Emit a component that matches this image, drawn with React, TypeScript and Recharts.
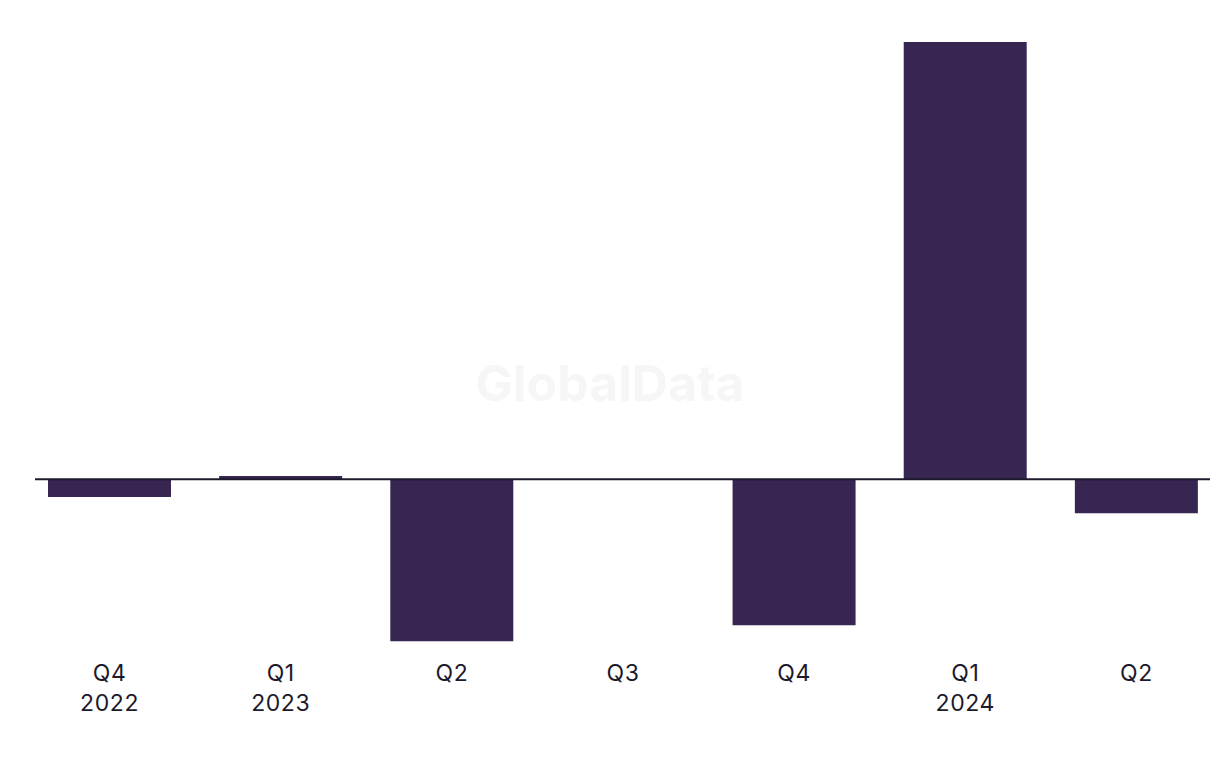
import React from 'react';
import { BarChart, Bar, XAxis, YAxis, ReferenceLine } from 'recharts';

const QUARTERS = ['Q4', 'Q1', 'Q2', 'Q3', 'Q4', 'Q1', 'Q2'];
const YEARS = ['2022', '2023', '', '', '', '2024', ''];
const VALUES = [-4.1, 0.7, -37.1, 0, -33.4, 100, -7.8];

const BAR_COLOR = '#372552';
const TEXT_COLOR = '#1c1a2b';
const FONT = "Inter, 'Noto Sans', sans-serif";

const data = QUARTERS.map((q, i) => ({ key: `${q}-${i}`, quarter: q, year: YEARS[i], value: VALUES[i] }));

function QuarterTick(props: any) {
  const { x, y, payload } = props;
  const row = data[payload.index];
  return (
    <g transform={`translate(${x},${y})`}>
      <text x={0} y={0} dy={19} textAnchor="middle" fill={TEXT_COLOR} fontSize={23} letterSpacing={0.6} fontFamily={FONT}>
        {row.quarter}
      </text>
      {row.year && (
        <text x={0} y={0} dy={49} textAnchor="middle" fill={TEXT_COLOR} fontSize={23} letterSpacing={0.6} fontFamily={FONT}>
          {row.year}
        </text>
      )}
    </g>
  );
}

export default function App() {
  return (
    <div style={{ position: 'relative', width: 1220, height: 768, margin: -8, background: '#fff' }}>
      <div
        style={{
          position: 'absolute',
          left: 0,
          width: 1220,
          top: 353,
          textAlign: 'center',
          fontFamily: FONT,
          fontWeight: 700,
          fontSize: 50,
          color: '#f6f6f6',
        }}
      >
        GlobalData
      </div>
      <BarChart
        width={1220}
        height={768}
        data={data}
        margin={{ top: 42, right: 10, left: 35, bottom: 0 }}
        style={{ position: 'absolute', left: 0, top: 0 }}
      >
        <XAxis
          dataKey="key"
          axisLine={false}
          tickLine={false}
          interval={0}
          height={114}
          padding={{ left: -11, right: -12 }}
          tick={<QuarterTick />}
        />
        <YAxis hide domain={[-40, 100]} />
        <Bar dataKey="value" fill={BAR_COLOR} barSize={123} isAnimationActive={false} />
        <ReferenceLine y={0} stroke={TEXT_COLOR} strokeWidth={2} />
      </BarChart>
    </div>
  );
}
